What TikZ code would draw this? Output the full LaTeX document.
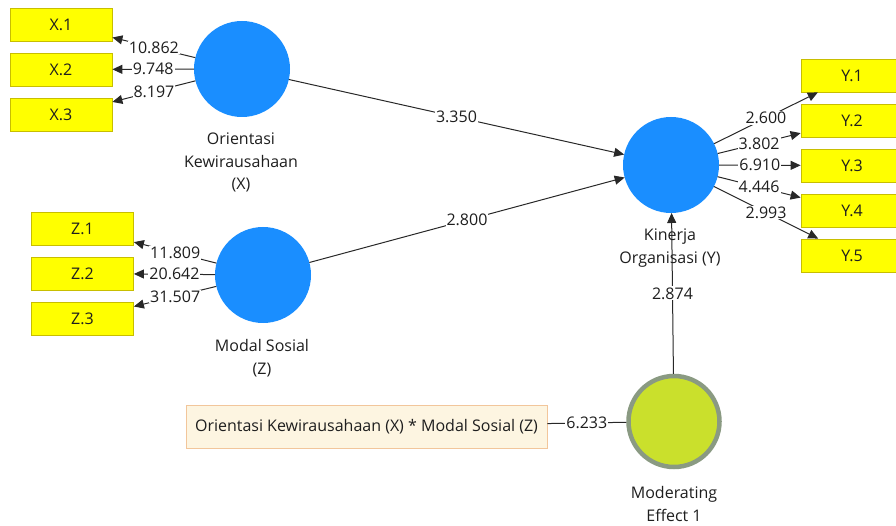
\documentclass[tikz,border=0pt]{standalone}
\usepackage{fontspec}
\setmainfont{Open Sans}
\usetikzlibrary{arrows.meta}
\definecolor{lvblue}{RGB}{26,142,255}
\definecolor{indfill}{RGB}{255,255,0}
\definecolor{indborder}{RGB}{200,190,0}
\definecolor{modfill}{RGB}{202,224,44}
\definecolor{modborder}{RGB}{138,154,130}
\definecolor{intfill}{RGB}{253,245,225}
\definecolor{intborder}{RGB}{242,198,155}
\definecolor{txt}{RGB}{30,30,30}
\definecolor{ln}{RGB}{40,40,40}
\begin{document}
\begin{tikzpicture}[x=1pt,y=-1pt,
  font=\fontsize{16}{22.5}\selectfont,
  lvnode/.style={circle, fill=lvblue, minimum size=96pt, inner sep=0pt, outer sep=0pt},
  modnode/.style={circle, fill=modfill, draw=modborder, line width=4.5pt, minimum size=91pt, inner sep=0pt},
  indbox/.style={draw=indborder, fill=indfill, minimum width=102pt, minimum height=33pt, inner sep=0pt, line width=0.8pt, text=txt},
  intbox/.style={draw=intborder, fill=intfill, minimum width=361pt, minimum height=43pt, inner sep=0pt, line width=0.8pt, text=txt},
  arrline/.style={-{Triangle[length=10pt,width=9pt]}, line width=1pt, draw=ln},
  flatline/.style={line width=1pt, draw=ln},
  edgelbl/.style={fill=white, inner sep=1pt, text=txt},
  captxt/.style={align=center, text=txt}]
\useasboundingbox (0,0) rectangle (896,526);
% latent variables
\node[lvnode] (X) at (242,69) {};
\node[lvnode] (Z) at (263,275) {};
\node[lvnode] (Y) at (671,165) {};
\node[modnode] (M) at (674,421.5) {};
% indicators
\node[indbox] (X1) at (61,25) {X.1};
\node[indbox] (X2) at (61,69.5) {X.2};
\node[indbox] (X3) at (61,115) {X.3};
\node[indbox] (Z1) at (82.5,229) {Z.1};
\node[indbox] (Z2) at (82.5,273.5) {Z.2};
\node[indbox] (Z3) at (82.5,319) {Z.3};
\node[indbox] (Y1) at (852,75.5) {Y.1};
\node[indbox] (Y2) at (852,120.5) {Y.2};
\node[indbox] (Y3) at (852,165.5) {Y.3};
\node[indbox] (Y4) at (852,210.5) {Y.4};
\node[indbox] (Y5) at (852,255.5) {Y.5};
\node[intbox] (I) at (366.5,426.5) {Orientasi Kewirausahaan (X) * Modal Sosial (Z)};
% captions
\node[captxt] (Xc) at (241,162.5) {Orientasi\\Kewirausahaan\\(X)};
\node[captxt] (Zc) at (262,358) {Modal Sosial\\(Z)};
\node[captxt] (Mc) at (674,504) {Moderating\\Effect 1};
% connectors
\draw[arrline] (X) -- node[edgelbl]{10.862} (X1);
\draw[arrline] (X) -- node[edgelbl]{9.748} (X2);
\draw[arrline] (X) -- node[edgelbl]{8.197} (X3);
\draw[arrline] (Z) -- node[edgelbl]{11.809} (Z1);
\draw[arrline] (Z) -- node[edgelbl]{20.642} (Z2);
\draw[arrline] (Z) -- node[edgelbl]{31.507} (Z3);
\draw[arrline] (Y) -- node[edgelbl]{2.600} (Y1);
\draw[arrline] (Y) -- node[edgelbl]{3.802} (Y2);
\draw[arrline] (Y) -- node[edgelbl]{6.910} (Y3);
\draw[arrline] (Y) -- node[edgelbl]{4.446} (Y4);
\draw[arrline] (Y) -- node[edgelbl]{2.993} (Y5);
\draw[arrline] (X) -- node[edgelbl]{3.350} (Y);
\draw[arrline] (Z) -- node[edgelbl]{2.800} (Y);
\draw[arrline] (M) -- node[edgelbl]{2.874} (Y);
\draw[flatline] (I) -- node[edgelbl]{6.233} (M);
\node[captxt] (Yc) at (670,248) {Kinerja\\Organisasi (Y)};
\end{tikzpicture}
\end{document}
